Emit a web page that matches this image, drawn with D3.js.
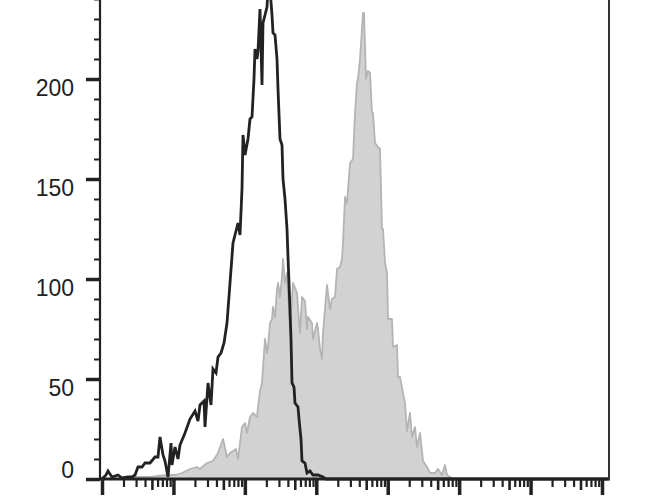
<!DOCTYPE html>
<html><head><meta charset="utf-8">
<script src="https://cdn.jsdelivr.net/npm/d3@7"></script>
<style>body{margin:0;background:#fff}svg{display:block}</style>
</head><body>
<svg id="c" width="670" height="500"></svg>
<script>
// Black (unfilled) histogram: log10 of fluorescence, counts
const blackLogX = [0.000,0.056,0.084,0.140,0.224,0.280,0.364,0.420,0.462,0.504,0.560,0.602,0.672,0.742,0.784,0.812,0.854,0.882,0.924,0.966,0.980,1.022,1.064,1.092,1.162,1.232,1.302,1.344,1.372,1.428,1.442,1.484,1.526,1.554,1.596,1.624,1.666,1.708,1.750,1.792,1.834,1.876,1.904,1.932,1.960,1.974,2.002,2.044,2.072,2.100,2.128,2.142,2.170,2.184,2.212,2.240,2.254,2.282,2.310,2.324,2.352,2.380,2.394,2.422,2.450,2.464,2.492,2.520,2.534,2.562,2.590,2.604,2.618,2.646,2.660,2.688,2.702,2.744,2.758,2.786,2.800,2.842,2.870,2.912,2.954,3.024,3.094,3.136,7.090];
const blackCount = [0,2,4,1,2,0.5,1,1,2,6,6,8,8,11,11,21,12,9,1,18,7,16,10,17,23,30,34,29,37,39,26,48,37,55,53,61,63,68,78,98,118,124,128,122,145,172,162,170,180,181,200,215,210,214,235,197,228,232,236,245,245,232,223,222,210,195,170,167,150,140,125,111,98,70,48,46,38,36,30,20,9,8,3,4,2,2,1,0,0];
// Gray (filled) histogram
const grayLogX = [0.182,0.322,0.462,0.574,0.672,0.784,0.910,1.022,1.120,1.232,1.330,1.372,1.470,1.554,1.624,1.694,1.750,1.792,1.834,1.876,1.904,1.932,1.960,2.002,2.030,2.072,2.114,2.170,2.184,2.212,2.240,2.254,2.282,2.310,2.324,2.352,2.380,2.394,2.422,2.450,2.464,2.492,2.520,2.534,2.562,2.590,2.632,2.674,2.730,2.744,2.772,2.800,2.842,2.870,2.884,2.940,2.954,3.010,3.024,3.052,3.080,3.094,3.150,3.192,3.220,3.262,3.290,3.332,3.360,3.374,3.402,3.430,3.472,3.514,3.542,3.570,3.584,3.612,3.654,3.668,3.696,3.724,3.752,3.780,3.794,3.822,3.864,3.892,3.920,3.934,3.962,3.990,4.004,4.060,4.074,4.130,4.144,4.172,4.214,4.242,4.270,4.312,4.340,4.382,4.410,4.452,4.494,4.550,4.592,4.662,4.704,4.760,4.802,4.830,4.872,4.914];
const grayCount = [0,0.5,1,1,1,1.5,2,2,3,5,6,5,8,9,13,20,11,13,14,15,10,18,26,28,23,31,33,31,36,44,48,56,70,63,66,78,80,86,81,95,98,91,101,110,98,103,75,98,93,86,73,91,89,75,81,78,70,78,75,65,60,73,97,85,90,91,105,106,110,118,141,138,158,160,183,198,200,210,233,233,200,204,203,183,183,168,166,165,125,125,108,103,80,80,66,67,51,51,43,38,24,33,21,26,16,23,9,6,3,3,5,2,7,2,1,0];
const yMajorTicks = [0,50,100,150,200];
const yMinorTicks = [10,20,30,40,60,70,80,90,110,120,130,140,160,170,180,190,210,220,230,240];
const xDecades = [1e0,1e1,1e2,1e3,1e4,1e5,1e6,1e7];
const xMinorMult = [2,3,4,6,7,8,9];
const xMidMult = [5];

const svg = d3.select("#c");
const x = d3.scaleLog().domain([1, 1e7]).range([102, 602]);
const y = d3.scaleLinear().domain([0, 200]).range([479, 79]);
const xRight = 609;
const ink = "#222";

// gray filled histogram
const grayData = grayLogX.map((e,i)=>[Math.pow(10,e), grayCount[i]]);
svg.append("path")
  .datum(grayData)
  .attr("d", d3.area().x(d=>x(d[0])).y0(y(0)).y1(d=>y(d[1])))
  .attr("fill", "#d2d2d2")
  .attr("stroke", "#b4b4b4")
  .attr("stroke-width", 1.8)
  .attr("stroke-linejoin", "round");

// black line histogram
const blackData = blackLogX.map((e,i)=>[Math.pow(10,e), blackCount[i]]);
svg.append("path")
  .datum(blackData)
  .attr("d", d3.line().x(d=>x(d[0])).y(d=>y(d[1])))
  .attr("fill", "none")
  .attr("stroke", ink)
  .attr("stroke-width", 2.8)
  .attr("stroke-linejoin", "miter");

// Y axis
const yAxisG = svg.append("g").attr("transform", "translate(100,0)");
yAxisG.append("g")
  .call(d3.axisLeft(y).tickValues(yMinorTicks).tickSize(6).tickFormat(""))
  .call(g=>g.select(".domain").remove())
  .call(g=>g.selectAll("line").attr("stroke", ink).attr("stroke-width", 2));
yAxisG.append("g")
  .call(d3.axisLeft(y).tickValues(yMajorTicks).tickSize(14).tickPadding(12).tickFormat(d3.format("d")))
  .call(g=>g.select(".domain").remove())
  .call(g=>g.selectAll("line").attr("stroke", ink).attr("stroke-width", 3.5))
  .call(g=>g.selectAll("text")
      .attr("fill", ink)
      .attr("font-family", "Liberation Sans, Arial, sans-serif")
      .attr("font-size", 23)
      .attr("dy", d => d === 0 ? "-0.05em" : "0.72em"));
yAxisG.append("line").attr("x1",0).attr("x2",0).attr("y1",0).attr("y2",480)
  .attr("stroke", ink).attr("stroke-width", 2.2);

// X axis
const xAxisG = svg.append("g").attr("transform", "translate(0,479)");
const minorVals = [], midVals = [];
xDecades.forEach(d=>{
  xMinorMult.forEach(m=>{ if (x(d*m) <= xRight) minorVals.push(d*m); });
  xMidMult.forEach(m=>{ if (x(d*m) <= xRight) midVals.push(d*m); });
});
xAxisG.append("g")
  .call(d3.axisBottom(x).tickValues(minorVals).tickSize(8).tickFormat(""))
  .call(g=>g.select(".domain").remove())
  .call(g=>g.selectAll("line").attr("stroke", ink).attr("stroke-width", 2.2));
xAxisG.append("g")
  .call(d3.axisBottom(x).tickValues(midVals).tickSize(11).tickFormat(""))
  .call(g=>g.select(".domain").remove())
  .call(g=>g.selectAll("line").attr("stroke", ink).attr("stroke-width", 2.6));
xAxisG.append("g")
  .call(d3.axisBottom(x).tickValues(xDecades).tickSize(16).tickFormat(""))
  .call(g=>g.select(".domain").remove())
  .call(g=>g.selectAll("line").attr("stroke", ink).attr("stroke-width", 3.5));
xAxisG.append("line").attr("x1",99).attr("x2",xRight+1).attr("y1",0).attr("y2",0)
  .attr("stroke", ink).attr("stroke-width", 3);

// right border
svg.append("line").attr("x1",xRight).attr("x2",xRight).attr("y1",0).attr("y2",480)
  .attr("stroke", "#333").attr("stroke-width", 2);
</script>
</body></html>
